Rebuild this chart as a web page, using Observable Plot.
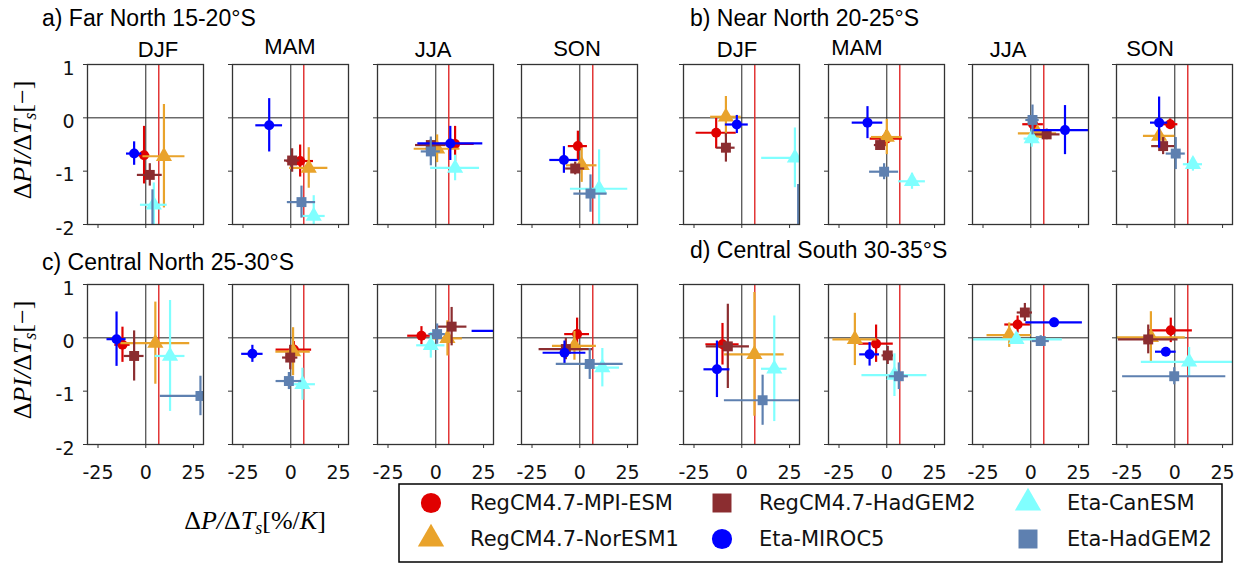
<!DOCTYPE html>
<html>
<head>
<meta charset="utf-8">
<script src="https://cdn.jsdelivr.net/npm/d3@7"></script>
<script src="https://cdn.jsdelivr.net/npm/@observablehq/plot@0.6"></script>
<style>
  html, body { margin: 0; padding: 0; background: #fff; }
  #wrap { position: relative; width: 1235px; height: 564px; overflow: hidden; background: #fff; }
  .pnl { position: absolute; }
  #overlay { position: absolute; left: 0; top: 0; pointer-events: none; }
</style>
</head>
<body>
<div id="wrap"></div>
<script>
// ---------- data ----------
const models = ["RegCM4.7-MPI-ESM", "RegCM4.7-NorESM1", "RegCM4.7-HadGEM2", "Eta-MIROC5", "Eta-CanESM", "Eta-HadGEM2"];
const colors = ["#e00000", "#e9a32b", "#8b2d30", "#0000ff", "#80ffff", "#5e80b0"];
const symbols = ["circle", "triangle", "square", "circle", "triangle", "square"];
const seasons = ["DJF", "MAM", "JJA", "SON"];
const regions = ["a) Far North 15-20°S", "b) Near North 20-25°S", "c) Central North 25-30°S", "d) Central South 30-35°S"];
const xTicks = [-25, 0, 25];
const yTicks = [1, 0, -1, -2];
const ccRate = 6.8;

// per season: values for the 6 models (dP/dTs [%/K], error; dPI/dTs, error)
const farNorthX    = [[-0.9, 9.5, 2.1, -6.1, 4.2, 3.5], [4.9, 9.4, 0.7, -11.3, 12, 5.6], [10.1, 0.7, -2.6, 7.6, 10.1, -2.6], [-1.0, 1.0, -2.4, -8.3, 10.1, 5.6]];
const farNorthXe   = [[3, 11, 6.5, 4, 7, 4], [7, 10, 4, 7, 6, 7.4], [10, 12, 8, 17, 12.8, 5], [5, 8, 5, 7.4, 15, 8.7]];
const farNorthY    = [[-0.7, -0.72, -1.07, -0.67, -1.63, -2.35], [-0.81, -0.94, -0.8, -0.14, -1.84, -1.58], [-0.49, -0.58, -0.51, -0.48, -0.94, -0.63], [-0.53, -0.89, -0.95, -0.79, -1.33, -1.42]];
const farNorthYe   = [[0.54, 0.97, 0.21, 0.22, 0.41, 1.0], [0.3, 0.38, 0.22, 0.5, 0.38, 0.3], [0.33, 0.26, 0.1, 0.32, 0.24, 0.27], [0.28, 0.32, 0.12, 0.25, 0.73, 0.35]];

const nearNorthX   = [[-13.4, -8.3, -8.3, -2.6, 27.8, 29.5], [-0.3, 0, -3.5, -10.1, 13.2, -1.4], [1.2, 3.5, 8.3, 17.9, 0.5, 0.9], [-2.4, -8.2, -6.1, -8.2, 9.5, 0.5]];
const nearNorthXe  = [[10.5, 8, 4.8, 6, 17.4, 4], [8.4, 8, 3, 8, 7, 7.6], [5.4, 10, 7, 17, 4, 3.5], [4, 8.2, 6, 4.5, 5, 5]];
const nearNorthY   = [[-0.28, 0.02, -0.56, -0.125, -0.75, -2.25], [-0.39, -0.36, -0.51, -0.09, -1.19, -1.01], [-0.12, -0.29, -0.31, -0.23, -0.39, -0.04], [-0.12, -0.34, -0.53, -0.09, -0.87, -0.67]];
const nearNorthYe  = [[0.3, 0.38, 0.27, 0.17, 0.56, 1.0], [0.15, 0.33, 0.1, 0.3, 0.15, 0.15], [0.1, 0.1, 0.1, 0.46, 0.16, 0.28], [0.1, 0.12, 0.16, 0.48, 0.13, 0.3]];

const centNorthX   = [[-12.2, 5.0, -6.1, -15.3, 12.7, 28.6], [1.6, 1.2, -0.3, -20.1, 6.1, -1.0], [-7.5, 6.1, 8.3, 36, -2.6, 0.7], [-1.4, -2.8, -7.3, -8.0, 11.8, 5.2]];
const centNorthXe  = [[4, 18, 5.2, 5, 7.8, 21], [9.3, 9, 4, 5.6, 6.8, 6.7], [7.2, 7.8, 8, 17, 7.4, 4.3], [6.5, 11.5, 14, 11.2, 9, 17.5]];
const centNorthY   = [[-0.13, -0.1, -0.34, -0.025, -0.34, -1.09], [-0.22, -0.26, -0.37, -0.3, -0.87, -0.81], [0.04, -0.01, 0.21, 0.13, -0.14, 0.07], [0.07, -0.15, -0.21, -0.28, -0.56, -0.49]];
const centNorthYe  = [[0.33, 0.77, 0.47, 0.51, 1.04, 0.37], [0.15, 0.45, 0.23, 0.16, 0.3, 0.16], [0.17, 0.33, 0.36, 0.3, 0.24, 0.19], [0.3, 0.27, 0.2, 0.22, 0.36, 0.29]];

const centSouthX   = [[-10.1, 6.6, -7.3, -13.0, 17.0, 10.9], [-5.6, -16.7, 0.5, -9.0, 4.0, 6.3], [-6.9, -11.3, -3.1, 12.2, -7.5, 5.2], [-2.1, -12.5, -13.9, -4.7, 7.5, -0.3]];
const centSouthXe  = [[8.7, 15.6, 11.3, 6.8, 6.7, 20], [9, 11.5, 3, 5.2, 17, 5], [6.7, 11.6, 4, 14.8, 24, 4.5], [11.3, 18, 15.6, 5.4, 25, 27]];
const centSouthY   = [[-0.12, -0.31, -0.16, -0.59, -0.58, -1.17], [-0.11, -0.03, -0.33, -0.31, -0.7, -0.72], [0.25, 0.05, 0.475, 0.29, -0.03, -0.06], [0.14, 0.01, -0.03, -0.26, -0.45, -0.72]];
const centSouthYe  = [[0.39, 1.16, 0.79, 0.53, 0.99, 0.47], [0.35, 0.49, 0.17, 0.22, 0.4, 0.25], [0.16, 0.23, 0.17, 0.08, 0.08, 0.1], [0.23, 0.48, 0.27, 0.08, 0.27, 0.16]];

const regionData = [
  [farNorthX, farNorthXe, farNorthY, farNorthYe],
  [nearNorthX, nearNorthXe, nearNorthY, nearNorthYe],
  [centNorthX, centNorthXe, centNorthY, centNorthYe],
  [centSouthX, centSouthXe, centSouthY, centSouthYe]
];

// ---------- layout ----------
const frameLeftsL = [87, 232, 377, 521];
const frameLeftsR = [683, 828, 972, 1116];
const frameTops = [64, 284];
const innerW = 116, innerH = 160;
const mL = 50, mR = 8, mT = 6, mB = 50;
const symR = [5, 6, 5.6, 5, 6, 5.6];

const wrap = document.getElementById("wrap");

function drawPanel(ri, si) {
  const [X, XE, Y, YE] = regionData[ri];
  const rows = models.map((m, i) => ({model: m, x: X[si][i], xe: XE[si][i], y: Y[si][i], ye: YE[si][i]}));
  const showX = ri >= 2;
  const showY = (ri === 0 || ri === 2) && si === 0;
  const marks = [
    Plot.ruleX([0], {stroke: "#222", strokeWidth: 1}),
    Plot.ruleY([0], {stroke: "#222", strokeWidth: 1}),
    Plot.ruleX([ccRate], {stroke: "#e02828", strokeWidth: 1.4})
  ];
  rows.forEach((d, i) => {
    marks.push(Plot.ruleY([d], {y: "y", x1: r => r.x - r.xe, x2: r => r.x + r.xe, stroke: colors[i], strokeWidth: 2.2, clip: true}));
    marks.push(Plot.ruleX([d], {x: "x", y1: r => r.y - r.ye, y2: r => r.y + r.ye, stroke: colors[i], strokeWidth: 2.2, clip: true}));
    marks.push(Plot.dot([d], {x: "x", y: "y", symbol: symbols[i], r: symR[i], fill: colors[i], stroke: "none", clip: true}));
  });
  marks.push(Plot.frame({stroke: "#333", strokeWidth: 1.3}));
  // tick marks
  marks.push(Plot.axisX(xTicks, {tickSize: 4, stroke: "#333", tickFormat: () => "", label: null}));
  marks.push(Plot.axisY(yTicks, {tickSize: 4, stroke: "#333", tickFormat: () => "", label: null}));
  // tick labels
  if (showX) marks.push(Plot.axisX(xTicks, {tickSize: 0, tickPadding: 21, fill: "#111", fontSize: 19, tickFormat: d => String(d), label: null}));
  if (showY) marks.push(Plot.axisY(yTicks, {tickSize: 0, tickPadding: 13, dy: 4, fill: "#111", fontSize: 19, tickFormat: d => String(d), label: null}));
  const chart = Plot.plot({
    width: mL + innerW + mR,
    height: mT + innerH + mB,
    marginLeft: mL, marginRight: mR, marginTop: mT, marginBottom: mB,
    x: {domain: [-30.5, 30.2], label: null},
    y: {domain: [-2, 1], label: null},
    style: {fontFamily: "DejaVu Sans, sans-serif", fontSize: "19px", background: "transparent", overflow: "visible"},
    marks
  });
  const lefts = (ri === 0 || ri === 2) ? frameLeftsL : frameLeftsR;
  const top = frameTops[ri < 2 ? 0 : 1];
  chart.classList.add("pnl");
  chart.style.left = (lefts[si] - mL) + "px";
  chart.style.top = (top - mT) + "px";
  wrap.appendChild(chart);
}

for (let ri = 0; ri < 4; ri++) for (let si = 0; si < 4; si++) drawPanel(ri, si);

// ---------- texts & legend ----------
const svg = d3.select(wrap).append("svg").attr("id", "overlay").attr("width", 1235).attr("height", 564);

const titlePos = [[42, 26], [690, 26], [42, 270], [690, 258]];
regions.forEach((t, i) => {
  svg.append("text").attr("x", titlePos[i][0]).attr("y", titlePos[i][1])
    .attr("font-family", "Liberation Sans, Arial, sans-serif").attr("font-size", 23).attr("fill", "#000").text(t);
});
const seasonX = [[158, 290, 433, 577], [737, 857, 1008, 1150]];
const seasonY = [[57, 54, 57, 56], [57, 55, 57, 56]];
seasonX.forEach((row, g) => row.forEach((x, i) => {
  svg.append("text").attr("x", x).attr("y", seasonY[g][i]).attr("text-anchor", "middle")
    .attr("font-family", "Liberation Sans, Arial, sans-serif").attr("font-size", 22).attr("fill", "#000").text(seasons[i]);
}));

function mathLabel(g, parts) {
  const t = g.append("text").attr("font-family", "Liberation Serif, DejaVu Serif, serif").attr("font-size", 26)
    .attr("text-anchor", "middle").attr("fill", "#000");
  parts.forEach(p => {
    const s = t.append("tspan").text(p[0]);
    if (p[1]) s.attr("font-style", "italic");
    if (p[2]) s.attr("font-size", p[2]);
    if (p[3]) s.attr("dy", p[3]);
  });
  return t;
}
const yLabParts = [["Δ"], ["PI", true], ["/", true], ["Δ"], ["T", true], ["s", true, 18, 5], ["[−]", false, null, -5]];
[140, 360].forEach(cy => {
  const g = svg.append("g").attr("transform", `translate(31,${cy}) rotate(-90)`);
  mathLabel(g, yLabParts);
});
const xg = svg.append("g").attr("transform", "translate(255,529)");
mathLabel(xg, [["Δ"], ["P", true], ["/", true], ["Δ"], ["T", true], ["s", true, 18, 5], ["[%/", false, null, -5], ["K", true], ["]"]]);

// legend
svg.append("rect").attr("x", 399).attr("y", 484).attr("width", 823).attr("height", 78)
  .attr("fill", "#fff").attr("stroke", "#000").attr("stroke-width", 1.5);
const legCols = [[431, 470], [722, 759], [1028, 1067]];
const legRows = [503, 539];
models.forEach((m, i) => {
  const c = Math.floor(i / 2), r = i % 2;
  const cx = legCols[c][0], cy = legRows[r];
  const sym = d3.symbol().type(symbols[i] === "circle" ? d3.symbolCircle : symbols[i] === "square" ? d3.symbolSquare : d3.symbolTriangle)
    .size(symbols[i] === "circle" ? 320 : symbols[i] === "square" ? 360 : 300);
  svg.append("path").attr("d", sym()).attr("transform", `translate(${cx},${cy})`).attr("fill", colors[i]);
  svg.append("text").attr("x", legCols[c][1]).attr("y", cy + 7).attr("font-family", "DejaVu Sans, sans-serif")
    .attr("font-size", 21).attr("fill", "#111").text(m);
});
</script>
</body>
</html>
